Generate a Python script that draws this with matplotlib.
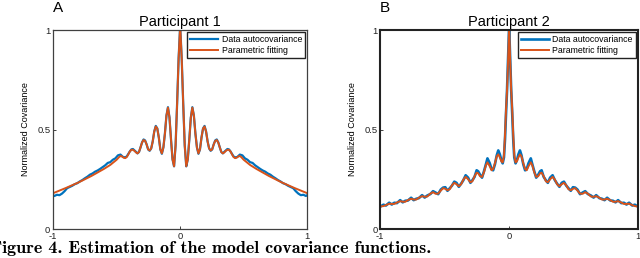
import numpy as np
import matplotlib
matplotlib.use("Agg")
import matplotlib.pyplot as plt

plt.rcParams['font.family'] = ['Liberation Sans', 'DejaVu Sans']

# lags >= 0, curves are symmetric about lag 0
lag_a = [0.000, 0.012, 0.024, 0.036, 0.048, 0.060, 0.072, 0.084, 0.096, 0.108,
         0.120, 0.132, 0.144, 0.156, 0.168, 0.180, 0.192, 0.204, 0.216, 0.228,
         0.240, 0.252, 0.264, 0.276, 0.288, 0.300, 0.312, 0.324, 0.336, 0.348,
         0.360, 0.372, 0.384, 0.396, 0.408, 0.420, 0.432, 0.444, 0.456, 0.468,
         0.480, 0.500, 0.550, 0.600, 0.650, 0.700, 0.750, 0.800, 0.850, 0.900,
         0.950, 1.000]
fit_a = [1.02, 0.86, 0.63, 0.42, 0.315, 0.35, 0.45, 0.56, 0.61, 0.57,
         0.48, 0.41, 0.38, 0.40, 0.46, 0.505, 0.515, 0.49, 0.44, 0.405,
         0.395, 0.40, 0.425, 0.443, 0.447, 0.435, 0.41, 0.387, 0.38, 0.385,
         0.393, 0.398, 0.398, 0.39, 0.375, 0.362, 0.356, 0.358, 0.364, 0.367,
         0.362, 0.348, 0.322, 0.302, 0.284, 0.266, 0.25, 0.234, 0.22, 0.206,
         0.193, 0.18]

lag_a_data = [0.000, 0.012, 0.024, 0.036, 0.048, 0.060, 0.072, 0.084, 0.096, 0.108,
              0.120, 0.132, 0.144, 0.156, 0.168, 0.180, 0.192, 0.204, 0.216, 0.228,
              0.240, 0.252, 0.264, 0.276, 0.288, 0.300, 0.312, 0.324, 0.336, 0.348,
              0.360, 0.372, 0.384, 0.396, 0.408, 0.420, 0.432, 0.45, 0.47, 0.49,
              0.51, 0.53, 0.55, 0.57, 0.59, 0.61, 0.63, 0.65, 0.67, 0.69,
              0.71, 0.73, 0.75, 0.77, 0.79, 0.81, 0.83, 0.85, 0.87, 0.89,
              0.91, 0.93, 0.95, 0.97, 0.99, 1.00]
data_a = [1.02, 0.86, 0.63, 0.42, 0.315, 0.35, 0.45, 0.56, 0.612, 0.57,
          0.48, 0.41, 0.378, 0.40, 0.46, 0.505, 0.518, 0.49, 0.44, 0.405,
          0.393, 0.40, 0.425, 0.445, 0.45, 0.435, 0.41, 0.387, 0.38, 0.388,
          0.395, 0.402, 0.40, 0.39, 0.378, 0.365, 0.36, 0.362, 0.374, 0.37,
          0.355, 0.348, 0.336, 0.332, 0.32, 0.311, 0.302, 0.294, 0.288, 0.279,
          0.273, 0.263, 0.255, 0.246, 0.239, 0.23, 0.225, 0.217, 0.211, 0.205,
          0.19, 0.178, 0.17, 0.172, 0.166, 0.17]

lag_b = [0.000, 0.008, 0.016, 0.024, 0.032, 0.040, 0.050, 0.060, 0.072, 0.084,
         0.096, 0.110, 0.124, 0.136, 0.150, 0.168, 0.180, 0.195, 0.210, 0.225,
         0.240, 0.252, 0.268, 0.285, 0.300, 0.318, 0.337, 0.355, 0.372, 0.390,
         0.408, 0.425, 0.443, 0.460, 0.478, 0.495, 0.512, 0.530, 0.550, 0.570,
         0.590, 0.610, 0.635, 0.655, 0.675, 0.700, 0.720, 0.740, 0.760, 0.785,
         0.805, 0.825, 0.845, 0.870, 0.890, 0.910, 0.930, 0.955, 0.975, 1.000]
fit_b = [1.02, 0.85, 0.70, 0.60, 0.47, 0.37, 0.335, 0.34, 0.36, 0.375,
         0.365, 0.33, 0.302, 0.295, 0.315, 0.335, 0.32, 0.285, 0.262, 0.265,
         0.28, 0.283, 0.265, 0.24, 0.235, 0.25, 0.262, 0.248, 0.225, 0.215,
         0.225, 0.232, 0.22, 0.20, 0.195, 0.202, 0.205, 0.193, 0.178, 0.177,
         0.185, 0.178, 0.163, 0.162, 0.165, 0.157, 0.148, 0.148, 0.152, 0.145,
         0.137, 0.137, 0.14, 0.133, 0.126, 0.126, 0.127, 0.12, 0.115, 0.113]
data_b = [1.02, 0.86, 0.70, 0.58, 0.45, 0.36, 0.33, 0.345, 0.375, 0.395,
          0.37, 0.325, 0.295, 0.30, 0.33, 0.355, 0.325, 0.29, 0.258, 0.272,
          0.29, 0.295, 0.262, 0.245, 0.232, 0.258, 0.27, 0.245, 0.228, 0.212,
          0.232, 0.238, 0.218, 0.205, 0.192, 0.21, 0.208, 0.198, 0.175, 0.183,
          0.19, 0.176, 0.168, 0.158, 0.17, 0.155, 0.152, 0.145, 0.157, 0.143,
          0.142, 0.134, 0.145, 0.13, 0.132, 0.123, 0.132, 0.118, 0.122, 0.112]

titles = ["Participant 1", "Participant 2"]
letters = ["A", "B"]
caption = "Figure 4. Estimation of the model covariance functions."

blue = "#0072BD"
orange = "#D95319"


def mirror(lag, val):
    lag = np.asarray(lag)
    val = np.asarray(val)
    return (np.concatenate([-lag[::-1], lag[1:]]),
            np.concatenate([val[::-1], val[1:]]))


fig = plt.figure(figsize=(6.4, 2.58), dpi=100)
ax_a = fig.add_axes([0.083, 0.1124, 0.397, 0.7713])
ax_b = fig.add_axes([0.594, 0.1124, 0.403, 0.7713])

panels = [(ax_a, lag_a_data, data_a, lag_a, fit_a, 0.9, "#404040", 1.6),
          (ax_b, lag_b, data_b, lag_b, fit_b, 1.5, "#222222", 1.9)]

for i, (ax, ld, vd, lf, vf, lw, ec, blw) in enumerate(panels):
    x, y = mirror(ld, vd)
    ax.plot(x, y, color=blue, lw=blw, label="Data autocovariance")
    x, y = mirror(lf, vf)
    ax.plot(x, y, color=orange, lw=1.4, label="Parametric fitting")
    ax.set_xlim(-1, 1)
    ax.set_ylim(0, 1)
    ax.set_xticks([-1, 0, 1])
    ax.set_xticklabels(["-1", "0", "1"])
    ax.set_yticks([0, 0.5, 1])
    ax.set_yticklabels(["0", "0.5", "1"])
    ax.tick_params(direction="in", length=2, width=0.6, labelsize=6.8, pad=2,
                   colors="#222222")
    for s in ax.spines.values():
        s.set_linewidth(lw)
        s.set_color(ec)
    ax.set_ylabel("Normalized Covariance", fontsize=6.5, labelpad=5)
    ax.set_title(titles[i], fontsize=10.5, pad=3)
    x0 = ax.get_position().x0
    fig.text(x0, 0.998, letters[i], fontsize=11, ha="left", va="top")
    leg = ax.legend(loc="upper right", bbox_to_anchor=(1.0, 1.0),
                    borderaxespad=0.25, fontsize=6.3, handlelength=3.2,
                    handletextpad=0.4, labelspacing=0.2, borderpad=0.35,
                    fancybox=False, framealpha=1)
    leg.get_frame().set_edgecolor("#222222")
    leg.get_frame().set_linewidth(1.0)

fig.text(-0.014, 0.006, caption, fontsize=13, family="cmb10",
         ha="left", va="bottom")

fig.savefig("out.png", dpi=100)
